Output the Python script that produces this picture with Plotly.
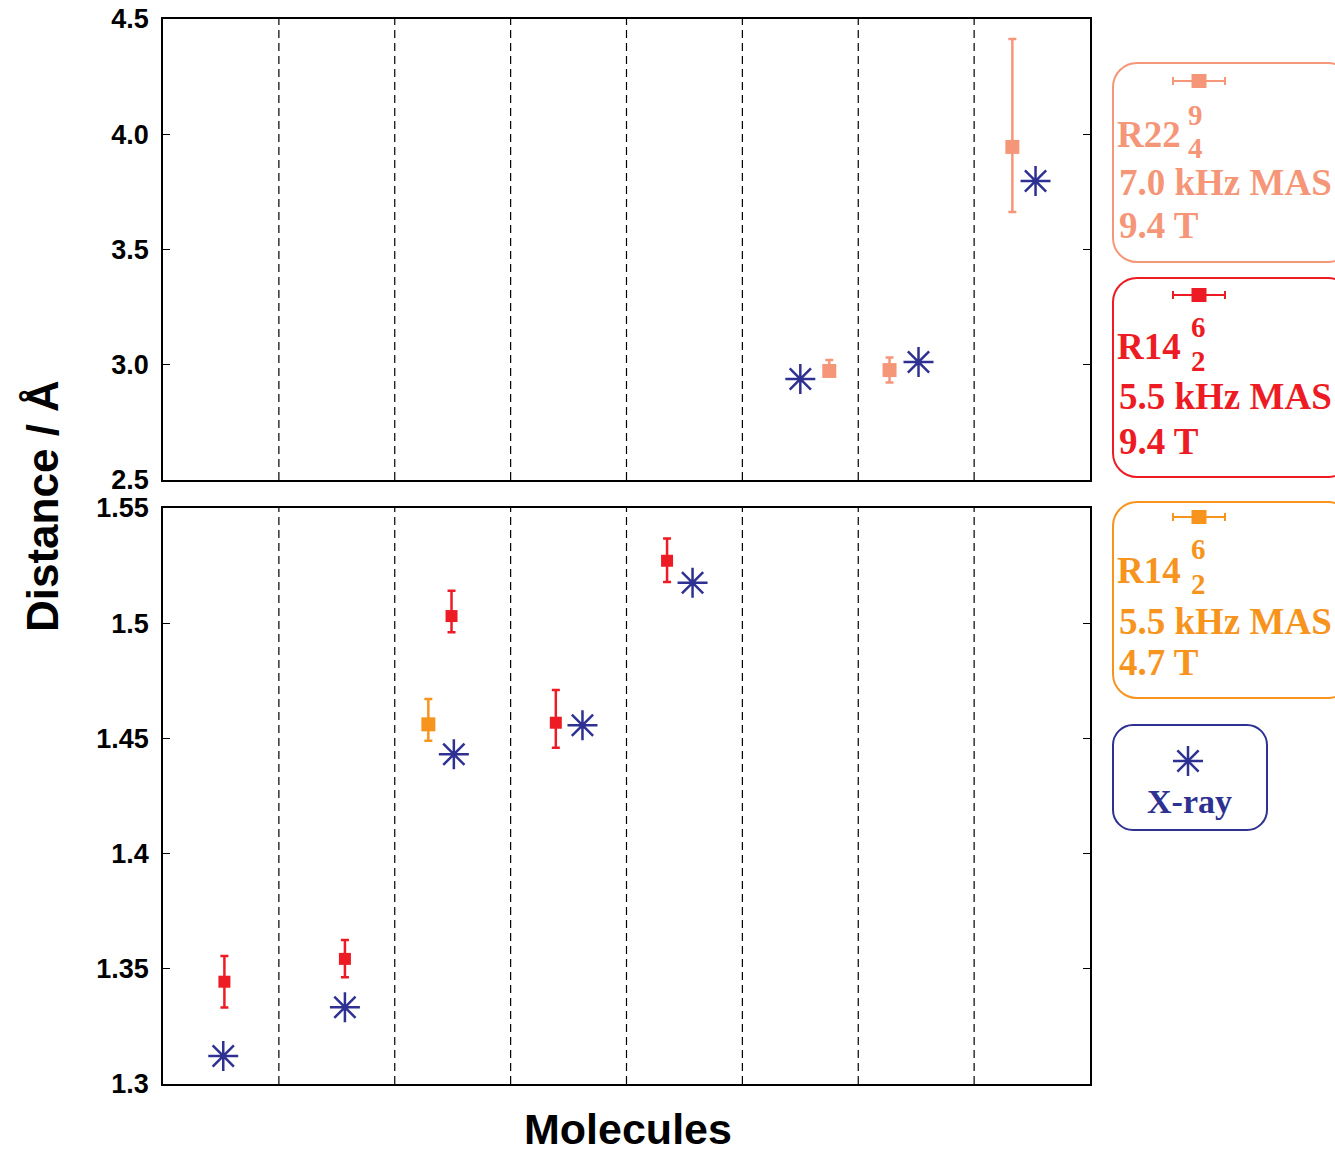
import plotly.graph_objects as go

# ---------------- data ----------------
# x positions are molecule index (0..7) plus the small horizontal offset used in the figure
r22_x = [5.25, 5.77, 6.83]
r22_y = [2.973, 2.977, 3.945]
r22_err_plus = [0.048, 0.054, 0.468]
r22_err_minus = [0.02, 0.054, 0.282]

xray_top_x = [5.0, 6.02, 7.03]
xray_top_y = [2.938, 3.012, 3.797]

r14_94_x = [0.03, 1.07, 1.99, 2.89, 3.85]
r14_94_y = [1.3444, 1.3543, 1.5031, 1.4568, 1.5271]
r14_94_err_plus = [0.0112, 0.0082, 0.011, 0.0142, 0.0097]
r14_94_err_minus = [0.0112, 0.0080, 0.007, 0.0109, 0.0092]

r14_47_x = [1.79]
r14_47_y = [1.4561]
r14_47_err_plus = [0.011]
r14_47_err_minus = [0.0071]

xray_bot_x = [0.02, 1.07, 2.01, 3.12, 4.07]
xray_bot_y = [1.3122, 1.3333, 1.4431, 1.4557, 1.5176]

separators = [0.5, 1.5, 2.5, 3.5, 4.5, 5.5, 6.5]
top_ticks = [2.5, 3.0, 3.5, 4.0, 4.5]
bot_ticks = [1.3, 1.35, 1.4, 1.45, 1.5, 1.55]

# ---------------- style ----------------
SALMON = "#F69679"
RED = "#ED1C24"
ORANGE = "#F7941D"
NAVY = "#2E3192"
SANS = "Liberation Sans, Arial, Helvetica, sans-serif"
SERIF = "Liberation Serif, Times New Roman, serif"

W, H = 1335, 1155
ML, MR, MT, MB = 163, 245, 19, 71


def X(p):
    return (p - ML) / (W - ML - MR)


def Y(p):
    return (H - MB - p) / (H - MT - MB)


fig = go.Figure()

err_style = dict(type="data", symmetric=False, thickness=2.5, width=4)

fig.add_trace(go.Scatter(
    x=r22_x, y=r22_y, mode="markers", xaxis="x", yaxis="y",
    marker=dict(symbol="square", size=14, color=SALMON),
    error_y=dict(array=r22_err_plus, arrayminus=r22_err_minus, color=SALMON, **err_style),
    showlegend=False))
fig.add_trace(go.Scatter(
    x=xray_top_x, y=xray_top_y, mode="markers", xaxis="x", yaxis="y",
    marker=dict(symbol="asterisk-open", size=25, color=NAVY, line=dict(color=NAVY, width=2.5)),
    showlegend=False))

fig.add_trace(go.Scatter(
    x=r14_94_x, y=r14_94_y, mode="markers", xaxis="x2", yaxis="y2",
    marker=dict(symbol="square", size=12, color=RED),
    error_y=dict(array=r14_94_err_plus, arrayminus=r14_94_err_minus, color=RED, **err_style),
    showlegend=False))
fig.add_trace(go.Scatter(
    x=r14_47_x, y=r14_47_y, mode="markers", xaxis="x2", yaxis="y2",
    marker=dict(symbol="square", size=14, color=ORANGE),
    error_y=dict(array=r14_47_err_plus, arrayminus=r14_47_err_minus, color=ORANGE, **err_style),
    showlegend=False))
fig.add_trace(go.Scatter(
    x=xray_bot_x, y=xray_bot_y, mode="markers", xaxis="x2", yaxis="y2",
    marker=dict(symbol="asterisk-open", size=25, color=NAVY, line=dict(color=NAVY, width=2.5)),
    showlegend=False))

shapes = []
for s in separators:
    for xr, yr in (("x", "y domain"), ("x2", "y2 domain")):
        shapes.append(dict(type="line", xref=xr, yref=yr, x0=s, x1=s, y0=0, y1=1,
                           line=dict(color="black", width=1.2, dash="8px,5px")))


def rounded_box(x0, y0, x1, y1, r, color):
    k = 0.45 * r
    path = (f"M {X(x0 + r)},{Y(y0)} L {X(x1 - r)},{Y(y0)} "
            f"C {X(x1 - k)},{Y(y0)} {X(x1)},{Y(y0 + k)} {X(x1)},{Y(y0 + r)} "
            f"L {X(x1)},{Y(y1 - r)} "
            f"C {X(x1)},{Y(y1 - k)} {X(x1 - k)},{Y(y1)} {X(x1 - r)},{Y(y1)} "
            f"L {X(x0 + r)},{Y(y1)} "
            f"C {X(x0 + k)},{Y(y1)} {X(x0)},{Y(y1 - k)} {X(x0)},{Y(y1 - r)} "
            f"L {X(x0)},{Y(y0 + r)} "
            f"C {X(x0)},{Y(y0 + k)} {X(x0 + k)},{Y(y0)} {X(x0 + r)},{Y(y0)} Z")
    return dict(type="path", xref="paper", yref="paper", path=path,
                line=dict(color=color, width=2), fillcolor="rgba(0,0,0,0)")


def pline(x0, y0, x1, y1, color, w=2):
    return dict(type="line", xref="paper", yref="paper",
                x0=X(x0), y0=Y(y0), x1=X(x1), y1=Y(y1), line=dict(color=color, width=w))


def err_glyph(cx, cy, color):
    return [pline(cx - 26, cy, cx + 26, cy, color),
            pline(cx - 26, cy - 4, cx - 26, cy + 4, color),
            pline(cx + 26, cy - 4, cx + 26, cy + 4, color),
            dict(type="rect", xref="paper", yref="paper",
                 x0=X(cx - 7.5), x1=X(cx + 7.5), y0=Y(cy - 7), y1=Y(cy + 7),
                 fillcolor=color, line=dict(width=0))]


shapes.append(rounded_box(1113, 63, 1352, 262, 24, SALMON))
shapes.append(rounded_box(1113, 278, 1352, 477, 24, RED))
shapes.append(rounded_box(1113, 502, 1352, 698, 24, ORANGE))
shapes.append(rounded_box(1113, 725, 1267, 830, 20, NAVY))
shapes += err_glyph(1199, 81, SALMON)
shapes += err_glyph(1199, 295, RED)
shapes += err_glyph(1199, 517, ORANGE)
cx, cy, rc, rs = 1188, 761, 15, 10.6
shapes += [pline(cx - rc, cy, cx + rc, cy, NAVY, 2.5),
           pline(cx, cy - rc, cx, cy + rc, NAVY, 2.5),
           pline(cx - rs, cy - rs, cx + rs, cy + rs, NAVY, 2.5),
           pline(cx - rs, cy + rs, cx + rs, cy - rs, NAVY, 2.5)]

annotations = []


def txt(s, px, py, color, size=37, anchor="left", family=SERIF, angle=0, yanchor="middle"):
    annotations.append(dict(text=s, x=X(px), y=Y(py), xref="paper", yref="paper",
                            xanchor=anchor, yanchor=yanchor, showarrow=False,
                            textangle=angle, borderpad=0,
                            font=dict(family=family, size=size, color=color, weight="bold")))


# legend texts
txt("R22", 1116, 134, SALMON)
txt("9", 1195, 115, SALMON, size=29, anchor="center")
txt("4", 1195, 148, SALMON, size=29, anchor="center")
txt("7.0 kHz MAS", 1118, 183, SALMON)
txt("9.4 T", 1118, 226, SALMON)

txt("R14", 1116, 347, RED)
txt("6", 1198, 327, RED, size=29, anchor="center")
txt("2", 1198, 361, RED, size=29, anchor="center")
txt("5.5 kHz MAS", 1118, 397, RED)
txt("9.4 T", 1118, 441, RED)

txt("R14", 1116, 570, ORANGE)
txt("6", 1198, 549, ORANGE, size=29, anchor="center")
txt("2", 1198, 584, ORANGE, size=29, anchor="center")
txt("5.5 kHz MAS", 1118, 621, ORANGE)
txt("4.7 T", 1118, 663, ORANGE)

txt("X-ray", 1189, 801, NAVY, size=34, anchor="center")

# axis titles
txt("Distance / Å", 42, 506, "black", size=44, anchor="center", family=SANS, angle=-90)
txt("Molecules", 628, 1154, "black", size=43, anchor="center", family=SANS, yanchor="bottom")

xcommon = dict(range=[-0.5, 7.5], showline=True, mirror=True, linecolor="black", linewidth=1.5,
               showticklabels=False, ticks="", showgrid=False, zeroline=False, automargin=False)
ycommon = dict(showline=True, mirror="ticks", linecolor="black", linewidth=1.5,
               ticks="inside", ticklen=7, tickwidth=1.2, tickcolor="black",
               showgrid=False, zeroline=False, ticklabelstandoff=7, automargin=False,
               tickfont=dict(family=SANS, size=27, color="black", weight="bold"))

fig.update_layout(
    width=W, height=H,
    margin=dict(l=ML, r=MR, t=MT, b=MB, autoexpand=False),
    paper_bgcolor="white", plot_bgcolor="white",
    showlegend=False,
    xaxis=dict(domain=[0, 1], anchor="y", **xcommon),
    xaxis2=dict(domain=[0, 1], anchor="y2", **xcommon),
    yaxis=dict(domain=[Y(480), 1], anchor="x", range=[2.5, 4.5], tickvals=top_ticks,
               ticktext=[f"{v:.1f}" for v in top_ticks], **ycommon),
    yaxis2=dict(domain=[0, Y(508)], anchor="x2", range=[1.3, 1.55], tickvals=bot_ticks,
                ticktext=[f"{v:g}" for v in bot_ticks], **ycommon),
    shapes=shapes,
    annotations=annotations,
)

fig.write_html("out.html")
